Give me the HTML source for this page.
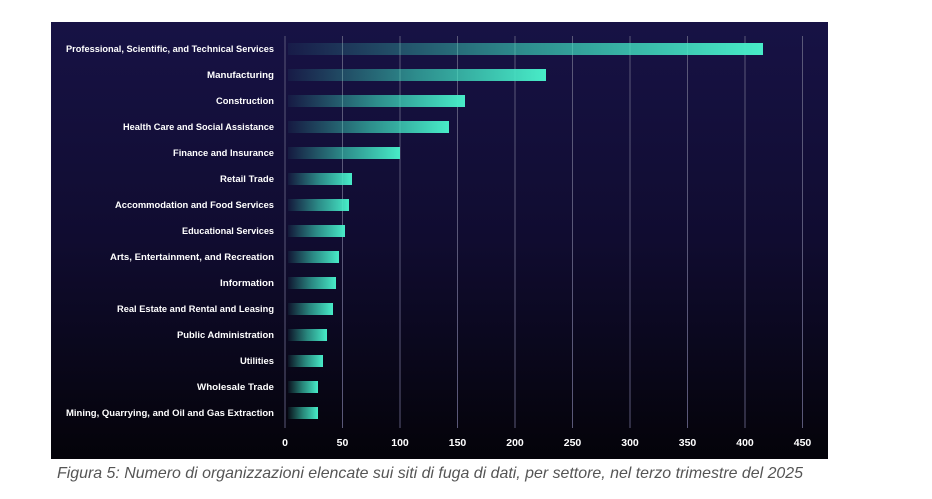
<!DOCTYPE html>
<html><head><meta charset="utf-8"><style>html,body{margin:0;padding:0;background:#fff;}svg{display:block}</style></head>
<body>
<svg width="932" height="499" xmlns="http://www.w3.org/2000/svg" font-family="Liberation Sans, sans-serif">
<defs>
<linearGradient id="bg" x1="0" y1="0" x2="0" y2="1">
<stop offset="0" stop-color="#171245"/><stop offset="0.5" stop-color="#100c30"/><stop offset="1" stop-color="#040309"/>
</linearGradient>
<linearGradient id="bar" x1="0" y1="0" x2="1" y2="0">
<stop offset="0" stop-color="#3ee0c0" stop-opacity="0.05"/><stop offset="0.5" stop-color="#3ee0c0" stop-opacity="0.6"/><stop offset="1" stop-color="#48ecc8"/>
</linearGradient>
</defs>
<rect x="51" y="22" width="777" height="437" fill="url(#bg)"/>
<g stroke="#5a5878" stroke-width="1">
<line x1="285" y1="36" x2="285" y2="428"/><line x1="342.5" y1="36" x2="342.5" y2="428"/><line x1="400" y1="36" x2="400" y2="428"/><line x1="457.5" y1="36" x2="457.5" y2="428"/><line x1="515" y1="36" x2="515" y2="428"/><line x1="572.5" y1="36" x2="572.5" y2="428"/><line x1="630" y1="36" x2="630" y2="428"/><line x1="687.5" y1="36" x2="687.5" y2="428"/><line x1="745" y1="36" x2="745" y2="428"/><line x1="802.5" y1="36" x2="802.5" y2="428"/>
</g>
<g fill="url(#bar)">
<rect x="288" y="43" width="475" height="12"/>
<rect x="288" y="69" width="258" height="12"/>
<rect x="288" y="95" width="177" height="12"/>
<rect x="288" y="121" width="161" height="12"/>
<rect x="288" y="147" width="112" height="12"/>
<rect x="288" y="173" width="64" height="12"/>
<rect x="288" y="199" width="61" height="12"/>
<rect x="288" y="225" width="57" height="12"/>
<rect x="288" y="251" width="51" height="12"/>
<rect x="288" y="277" width="48" height="12"/>
<rect x="288" y="303" width="45" height="12"/>
<rect x="288" y="329" width="39" height="12"/>
<rect x="288" y="355" width="35" height="12"/>
<rect x="288" y="381" width="30" height="12"/>
<rect x="288" y="407" width="30" height="12"/>
</g>
<g fill="#fff" font-size="9.5" font-weight="bold" text-anchor="end">
<text x="274" y="52" textLength="208" lengthAdjust="spacingAndGlyphs">Professional, Scientific, and Technical Services</text>
<text x="274" y="78" textLength="67" lengthAdjust="spacingAndGlyphs">Manufacturing</text>
<text x="274" y="104" textLength="58" lengthAdjust="spacingAndGlyphs">Construction</text>
<text x="274" y="130" textLength="151" lengthAdjust="spacingAndGlyphs">Health Care and Social Assistance</text>
<text x="274" y="156" textLength="101" lengthAdjust="spacingAndGlyphs">Finance and Insurance</text>
<text x="274" y="182" textLength="54" lengthAdjust="spacingAndGlyphs">Retail Trade</text>
<text x="274" y="208" textLength="159" lengthAdjust="spacingAndGlyphs">Accommodation and Food Services</text>
<text x="274" y="234" textLength="92" lengthAdjust="spacingAndGlyphs">Educational Services</text>
<text x="274" y="260" textLength="164" lengthAdjust="spacingAndGlyphs">Arts, Entertainment, and Recreation</text>
<text x="274" y="286" textLength="54" lengthAdjust="spacingAndGlyphs">Information</text>
<text x="274" y="312" textLength="157" lengthAdjust="spacingAndGlyphs">Real Estate and Rental and Leasing</text>
<text x="274" y="338" textLength="97" lengthAdjust="spacingAndGlyphs">Public Administration</text>
<text x="274" y="364" textLength="34" lengthAdjust="spacingAndGlyphs">Utilities</text>
<text x="274" y="390" textLength="77" lengthAdjust="spacingAndGlyphs">Wholesale Trade</text>
<text x="274" y="416" textLength="208" lengthAdjust="spacingAndGlyphs">Mining, Quarrying, and Oil and Gas Extraction</text>
</g>
<g fill="#fff" font-size="10.5" font-weight="bold" text-anchor="middle">
<text x="285" y="446">0</text><text x="342.5" y="446">50</text><text x="400" y="446">100</text><text x="457.5" y="446">150</text><text x="515" y="446">200</text><text x="572.5" y="446">250</text><text x="630" y="446">300</text><text x="687.5" y="446">350</text><text x="745" y="446">400</text><text x="802.5" y="446">450</text>
</g>
<text x="57" y="478" fill="#555" font-size="16" font-style="italic" textLength="746" lengthAdjust="spacingAndGlyphs">Figura 5: Numero di organizzazioni elencate sui siti di fuga di dati, per settore, nel terzo trimestre del 2025</text>
</svg>
</body></html>
